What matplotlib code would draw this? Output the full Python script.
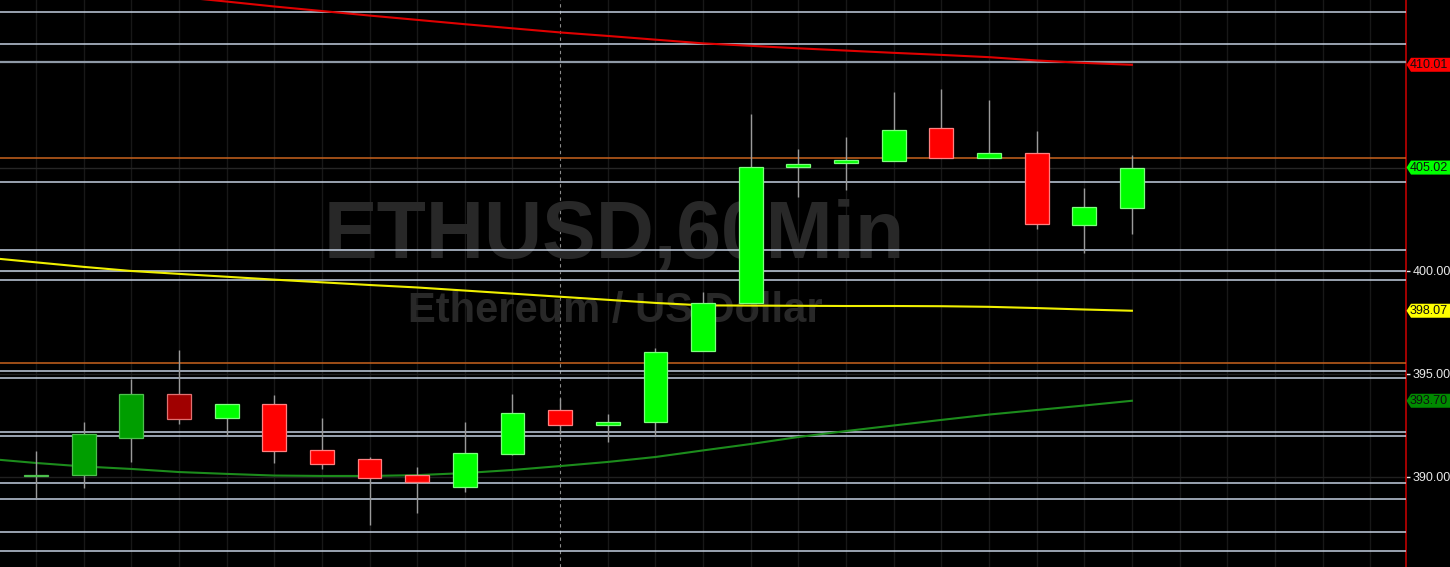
import matplotlib
matplotlib.use("Agg")
import matplotlib.pyplot as plt
from matplotlib.patches import Polygon
from matplotlib.transforms import blended_transform_factory
import numpy as np

plt.rcParams['font.family'] = ['Liberation Sans', 'DejaVu Sans']

# ---- data ----
opens  = [390.05, 390.08, 391.87, 394.01, 392.88, 393.54, 391.31, 390.89, 390.10, 389.53,
          391.10, 393.23, 392.54, 392.65, 396.12, 398.43, 405.06, 405.23, 405.35, 406.93,
          405.50, 405.73, 402.23, 403.07]
highs  = [391.28, 392.68, 394.74, 396.17, 393.54, 393.98, 392.84, 390.99, 390.50, 392.68,
          394.01, 393.82, 393.06, 396.25, 399.00, 407.61, 405.91, 406.52, 408.70, 408.83,
          408.30, 406.80, 404.01, 405.63]
lows   = [389.00, 389.45, 390.74, 392.57, 391.99, 390.69, 390.39, 387.65, 388.23, 389.29,
          391.05, 392.09, 391.71, 392.00, 396.12, 398.43, 403.61, 403.93, 405.35, 405.50,
          405.50, 402.04, 400.89, 401.80]
closes = [390.09, 392.07, 394.01, 392.83, 393.54, 391.25, 390.62, 389.94, 389.74, 391.15,
          393.09, 392.52, 392.67, 396.07, 398.43, 405.03, 405.20, 405.39, 406.84, 405.50,
          405.73, 402.26, 403.09, 405.02]
candle_style = ['g', 'g', 'g', 'r', 'G', 'R', 'R', 'R', 'R', 'G',
                'G', 'R', 'G', 'G', 'G', 'G', 'G', 'G', 'G', 'R',
                'G', 'R', 'G', 'G']

# moving averages: first value belongs to the bar before the first visible candle
ma_red    = [414.30, 414.05, 413.80, 413.55, 413.31, 413.08, 412.84, 412.62, 412.40, 412.19,
             411.98, 411.78, 411.58, 411.41, 411.23, 411.05, 410.93, 410.81, 410.70, 410.59,
             410.49, 410.38, 410.22, 410.10, 410.01]
ma_yellow = [400.64, 400.42, 400.20, 400.00, 399.86, 399.72, 399.58, 399.45, 399.32, 399.20,
             399.05, 398.90, 398.75, 398.60, 398.45, 398.33, 398.32, 398.31, 398.30, 398.30,
             398.29, 398.26, 398.20, 398.13, 398.07]
ma_green  = [390.88, 390.68, 390.51, 390.39, 390.24, 390.15, 390.07, 390.05, 390.05, 390.09,
             390.19, 390.34, 390.53, 390.73, 390.97, 391.29, 391.60, 391.94, 392.23, 392.50,
             392.77, 393.03, 393.25, 393.47, 393.70]

level_lines = [412.56, 411.01, 404.30, 401.00, 400.00, 399.56, 395.16, 394.82,
               392.17, 391.98, 389.72, 388.95, 387.32, 386.39]
gray_level = 410.14
orange_levels = [405.50, 395.53]
yticks = [390, 395, 400]
ytick_labels = ['390.00', '395.00', '400.00']
flags = [(410.01, '410.01', '#ff0000'), (405.02, '405.02', '#00ff00'),
         (398.07, '398.07', '#ffff00'), (393.70, '393.70', '#008a00')]
session_break = 11

# ---- figure ----
W, H = 1450, 567
fig = plt.figure(figsize=(W / 100, H / 100), dpi=100, facecolor='black')
ax = fig.add_axes([0, 0, 1406 / W, 1])
ax.set_facecolor('black')
ax.set_xlim(-0.7555, 28.752)
ax.set_ylim(385.63, 413.155)

n = len(opens)
x = np.arange(n)
xm = np.arange(-1, n)

# vertical grid
for xi in range(0, 29):
    if xi == session_break:
        ax.axvline(xi, color='#8a8a8a', lw=0.8, ls=(0, (3, 3)), zorder=1)
    else:
        ax.axvline(xi, color='#181818', lw=1.0, zorder=1)
for yt in yticks:
    ax.axhline(yt, color='#202020', lw=1.0, zorder=1)
ax.axhline(405.02, color='#262626', lw=1.0, zorder=1)

# watermark
ax.text(614 / 1406, 1 - 258 / H, 'ETHUSD,60Min', transform=ax.transAxes,
        ha='center', va='baseline', fontsize=58, fontweight='bold',
        color='#282828', zorder=2)
ax.text(615 / 1406, 1 - 322 / H, 'Ethereum / US Dollar', transform=ax.transAxes,
        ha='center', va='baseline', fontsize=30, fontweight='bold',
        color='#282828', zorder=2)

# horizontal levels
for lv in level_lines:
    ax.axhline(lv, color='#c3cfe0', lw=1.1, zorder=3)
ax.axhline(gray_level, color='#8f99a6', lw=1.6, zorder=3)
for lv in orange_levels:
    ax.axhline(lv, color='#c8621e', lw=1.1, zorder=3)

# moving averages
ax.plot(xm, ma_red, color='#e00000', lw=1.5, zorder=4)
ax.plot(xm, ma_yellow, color='#f0f000', lw=1.5, zorder=4)
ax.plot(xm, ma_green, color='#1c8c1c', lw=1.5, zorder=4)

# candles
fill = {'G': '#00ff00', 'g': '#009e00', 'R': '#ff0000', 'r': '#a00000'}
edge = {'G': '#7dff7d', 'g': '#4cc04c', 'R': '#ff8080', 'r': '#e07070'}
ax.vlines(x, lows, highs, color='#9a9a9a', lw=1.0, zorder=5)
bottoms = [min(o, c) for o, c in zip(opens, closes)]
heights = [max(abs(c - o), 0.06) for o, c in zip(opens, closes)]
ax.bar(x, heights, bottom=bottoms, width=0.5,
       color=[fill[s] for s in candle_style],
       edgecolor=[edge[s] for s in candle_style], linewidth=0.9, zorder=6)

# axis styling
for side in ['left', 'top', 'bottom']:
    ax.spines[side].set_visible(False)
ax.spines['right'].set_color('#c00000')
ax.spines['right'].set_linewidth(1.2)
ax.set_xticks([])
ax.yaxis.tick_right()
ax.set_yticks(yticks)
ax.set_yticklabels(ytick_labels)
ax.tick_params(axis='y', colors='#e8e8e8', length=3, width=1, pad=1.5, labelsize=9)

# price flags
tr = blended_transform_factory(fig.transFigure, ax.transData)
hh = 7 / 20.6
x0, x1, x2 = 1406.5 / W, 1411 / W, 1.0
for lv, lab, col in flags:
    poly = Polygon([[x0, lv], [x1, lv + hh], [x2, lv + hh], [x2, lv - hh], [x1, lv - hh]],
                   closed=True, facecolor=col, edgecolor='none', transform=tr,
                   clip_on=False, zorder=10)
    fig.add_artist(poly)
    fig.text(1428.5 / W, lv, lab, transform=tr, ha='center', va='center',
             fontsize=9, color='#101010', zorder=11)

fig.savefig('out.png', dpi=100, facecolor='black')
